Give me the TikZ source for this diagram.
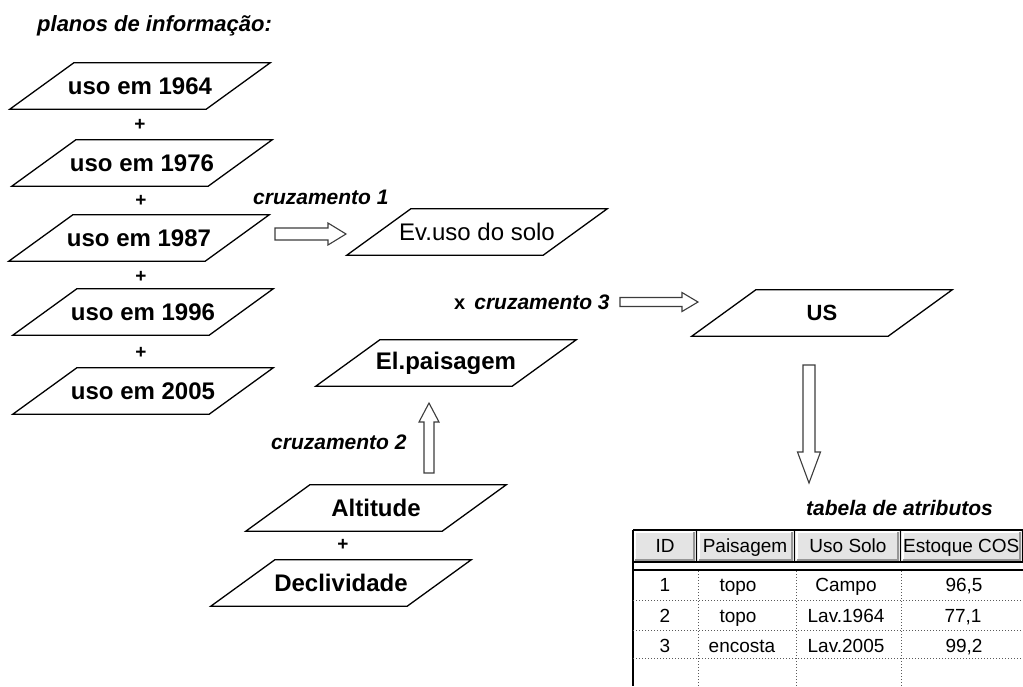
\documentclass[tikz,border=0pt]{standalone}
\usepackage{fontspec}
\setmainfont{Liberation Sans}
\usetikzlibrary{calc}
\definecolor{headgray}{RGB}{228,228,228}
\definecolor{shadegray}{RGB}{150,150,150}
\definecolor{arrowgray}{RGB}{60,60,60}
\definecolor{dotgray}{RGB}{90,90,90}
\begin{document}
\begin{tikzpicture}[x=1pt,y=-1pt,
  plane/.style={minimum width=196pt, minimum height=46pt, inner sep=0pt,
    font=\fontsize{24}{28}\selectfont\bfseries},
  planeline/.style={draw=black, line width=1.3pt, line join=miter},
  plus/.style={font=\fontsize{19}{21}\selectfont\bfseries, inner sep=0pt},
  lbl/.style={font=\fontsize{21}{24}\selectfont\bfseries\itshape, inner sep=0pt, anchor=west},
  blockline/.style={draw=arrowgray, line width=1.1pt, fill=white, line join=miter},
  cell/.style={font=\fontsize{19}{22}\selectfont, inner sep=0pt, anchor=base},
  gridline/.style={draw=dotgray, line width=1pt, dotted},
  frameline/.style={draw=black, line width=1.6pt},
]
\useasboundingbox (0,0) rectangle (1023,686);

% title
\node[lbl, font=\fontsize{22}{26}\selectfont\bfseries\itshape] (title) at (37,26) {planos de informação:};

% information planes
\node[plane] (p1) at (140,86) {uso em 1964};
\node[plane] (p2) at (142,163) {uso em 1976};
\node[plane] (p3) at (139,238) {uso em 1987};
\node[plane] (p4) at (143,312) {uso em 1996};
\node[plane] (p5) at (143,391) {uso em 2005};
\node[plane, font=\fontsize{24}{28}\selectfont] (ev) at (477,232) {Ev.uso do solo};
\node[plane] (el) at (446,363) {El.paisagem};
\node[plane, font=\fontsize{22}{26}\selectfont\bfseries] (us) at (822,313) {US};
\node[plane] (alt) at (376,508) {Altitude};
\node[plane] (dec) at (341,583) {Declividade};

\foreach \n in {p1,p2,p3,p4,p5,ev,el,us,alt,dec}
  \draw[planeline] ([xshift=-32pt]\n.south west) -- ([xshift=-32pt]\n.south east)
    -- ([xshift=32pt]\n.north east) -- ([xshift=32pt]\n.north west) -- cycle;

% plus signs
\node[plus] (s1) at (140,125) {+};
\node[plus] (s2) at (141,201) {+};
\node[plus] (s3) at (141,277) {+};
\node[plus] (s4) at (141,353) {+};
\node[plus] (s5) at (343,545) {+};

% labels
\node[lbl] (c1) at (253,197) {cruzamento 1};
\node[lbl] (c2) at (271,442) {cruzamento 2};
\node[anchor=west, inner sep=0pt] (c3) at (454,302)
  {\fontsize{20}{24}\selectfont\bfseries x\hspace{9pt}{\itshape\fontsize{21}{24}\selectfont cruzamento 3}};
\node[lbl] (tab) at (806,508) {tabela de atributos};

% block arrows
\coordinate (a1s) at (275,234); \coordinate (a1e) at (346,234);
\draw[blockline] ($(a1s)+(0,-6)$) -- ($(a1e)+(-18,-6)$) -- ($(a1e)+(-18,-11)$) -- (a1e)
  -- ($(a1e)+(-18,11)$) -- ($(a1e)+(-18,6)$) -- ($(a1s)+(0,6)$) -- cycle;

\coordinate (a3s) at (620,302); \coordinate (a3e) at (698,302);
\draw[blockline] ($(a3s)+(0,-4.5)$) -- ($(a3e)+(-16,-4.5)$) -- ($(a3e)+(-16,-9.5)$) -- (a3e)
  -- ($(a3e)+(-16,9.5)$) -- ($(a3e)+(-16,4.5)$) -- ($(a3s)+(0,4.5)$) -- cycle;

\coordinate (a2s) at (429,473); \coordinate (a2e) at (429,403);
\draw[blockline] ($(a2s)+(-5,0)$) -- ($(a2e)+(-5,19)$) -- ($(a2e)+(-10,19)$) -- (a2e)
  -- ($(a2e)+(10,19)$) -- ($(a2e)+(5,19)$) -- ($(a2s)+(5,0)$) -- cycle;

\coordinate (a4s) at (809,365); \coordinate (a4e) at (809,483);
\draw[blockline] ($(a4s)+(-6,0)$) -- ($(a4e)+(-6,-31)$) -- ($(a4e)+(-11.5,-31)$) -- (a4e)
  -- ($(a4e)+(11.5,-31)$) -- ($(a4e)+(6,-31)$) -- ($(a4s)+(6,0)$) -- cycle;

% attribute table
\foreach \xa/\xb in {633/697,697/795,795/901,901/1023}{
  \fill[headgray] (\xa,530) rectangle (\xb,562);
  \draw[white, line width=1.2pt] (\xa+2,560) -- (\xa+2,532) -- (\xb-2,532);
  \draw[shadegray, line width=1.2pt] (\xa+2,560) -- (\xb-3,560) -- (\xb-3,532);
  \draw[frameline] (\xb,530) -- (\xb,562);
}
\draw[frameline] (633,530) -- (1023,530);
\draw[frameline] (633,562) -- (1023,562);
\draw[frameline] (633,570) -- (1023,570);
\draw[frameline] (633,530) -- (633,686);
\foreach \yy in {600,630,658} \draw[gridline] (633,\yy) -- (1023,\yy);
\foreach \xx in {698,796,901} \draw[gridline] (\xx,571) -- (\xx,686);

\node[cell] (h1) at (665,552) {ID};
\node[cell] (h2) at (745,552) {Paisagem};
\node[cell] (h3) at (848,552) {Uso Solo};
\node[cell, anchor=base west] (h4) at (903,552) {Estoque COS};

\node[cell] (r1a) at (665,591) {1};
\node[cell] (r1b) at (738,591) {topo};
\node[cell] (r1c) at (846,591) {Campo};
\node[cell] (r1d) at (964,591) {96,5};
\node[cell] (r2a) at (665,622) {2};
\node[cell] (r2b) at (738,622) {topo};
\node[cell] (r2c) at (846,622) {Lav.1964};
\node[cell] (r2d) at (963,622) {77,1};
\node[cell] (r3a) at (665,652) {3};
\node[cell] (r3b) at (742,652) {encosta};
\node[cell] (r3c) at (846,652) {Lav.2005};
\node[cell] (r3d) at (964,652) {99,2};
\end{tikzpicture}
\end{document}
